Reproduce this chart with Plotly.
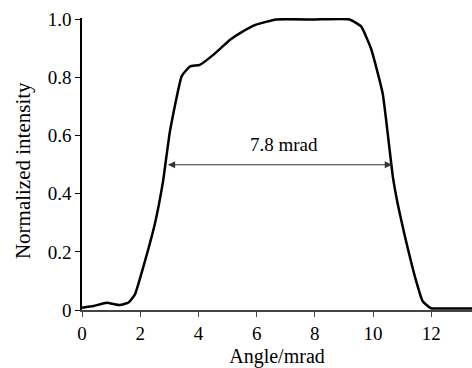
import plotly.graph_objects as go

angle = [0.0, 0.4, 0.85, 1.3, 1.6, 1.82, 2.1, 2.5, 2.78, 3.02, 3.43, 3.71, 4.05, 4.51, 5.09, 5.43, 5.98, 6.67, 8.0, 9.19, 9.59, 9.93, 10.33, 10.68, 10.85, 11.08, 11.48, 11.7, 11.99, 12.5, 13.4]
intensity = [0.008, 0.014, 0.025, 0.017, 0.026, 0.054, 0.146, 0.295, 0.44, 0.614, 0.806, 0.838, 0.844, 0.878, 0.93, 0.953, 0.982, 1.0, 1.0, 1.0, 0.976, 0.9, 0.746, 0.459, 0.364, 0.26, 0.1, 0.031, 0.006, 0.005, 0.005]

x_ticks = [0, 2, 4, 6, 8, 10, 12]
y_ticks = [0, 0.2, 0.4, 0.6, 0.8, 1.0]
y_labels = ["0", "0.2", "0.4", "0.6", "0.8", "1.0"]

fwhm_start, fwhm_end, fwhm_level = 2.9, 10.65, 0.5
fwhm_label = "7.8 mrad"
label_pos = (6.94, 0.57)

x_title = "Angle/mrad"
y_title = "Normalized intensity"

font = "Liberation Serif"

fig = go.Figure()
fig.add_trace(go.Scatter(
    x=angle, y=intensity, mode="lines",
    line=dict(color="black", width=2.5, shape="spline", smoothing=0.4),
    showlegend=False, hoverinfo="skip",
))

fig.add_annotation(
    x=fwhm_end, y=fwhm_level, ax=fwhm_start, ay=fwhm_level,
    xref="x", yref="y", axref="x", ayref="y",
    showarrow=True, arrowhead=2, startarrowhead=2, arrowside="end+start",
    arrowsize=1.2, arrowwidth=1.2, arrowcolor="#333", text="",
)
fig.add_annotation(
    x=label_pos[0], y=label_pos[1], xref="x", yref="y",
    text=fwhm_label, showarrow=False,
    font=dict(family=font, size=19, color="black"),
)
fig.add_annotation(
    x=-0.151, y=0.476, xref="paper", yref="paper",
    xanchor="center", yanchor="middle", textangle=-90,
    text=y_title, showarrow=False,
    font=dict(family=font, size=21, color="black"),
)

fig.update_layout(
    width=472, height=368,
    margin=dict(l=82, r=0, t=18, b=58),
    paper_bgcolor="white", plot_bgcolor="white",
    font=dict(family=font, color="black"),
)
fig.update_xaxes(
    range=[0, 13.4], tickvals=x_ticks, ticks="outside", ticklen=5,
    tickcolor="#444", showline=True, linecolor="#444", linewidth=1.5,
    showgrid=False, zeroline=False, automargin=False,
    tickfont=dict(family=font, size=19, color="black"),
    title=dict(text=x_title, font=dict(family=font, size=20, color="black"), standoff=8),
)
fig.update_yaxes(
    range=[0, 1.005], tickvals=y_ticks, ticktext=y_labels, ticks="outside", ticklen=5,
    tickcolor="black", showline=True, linecolor="black", linewidth=1.5,
    showgrid=False, zeroline=False, automargin=False,
    tickfont=dict(family=font, size=19, color="black"),
)

fig.write_html(
    "out.html",
    config={"displayModeBar": False},
    post_script="document.body.style.margin='0';document.body.style.overflow='hidden';",
)
